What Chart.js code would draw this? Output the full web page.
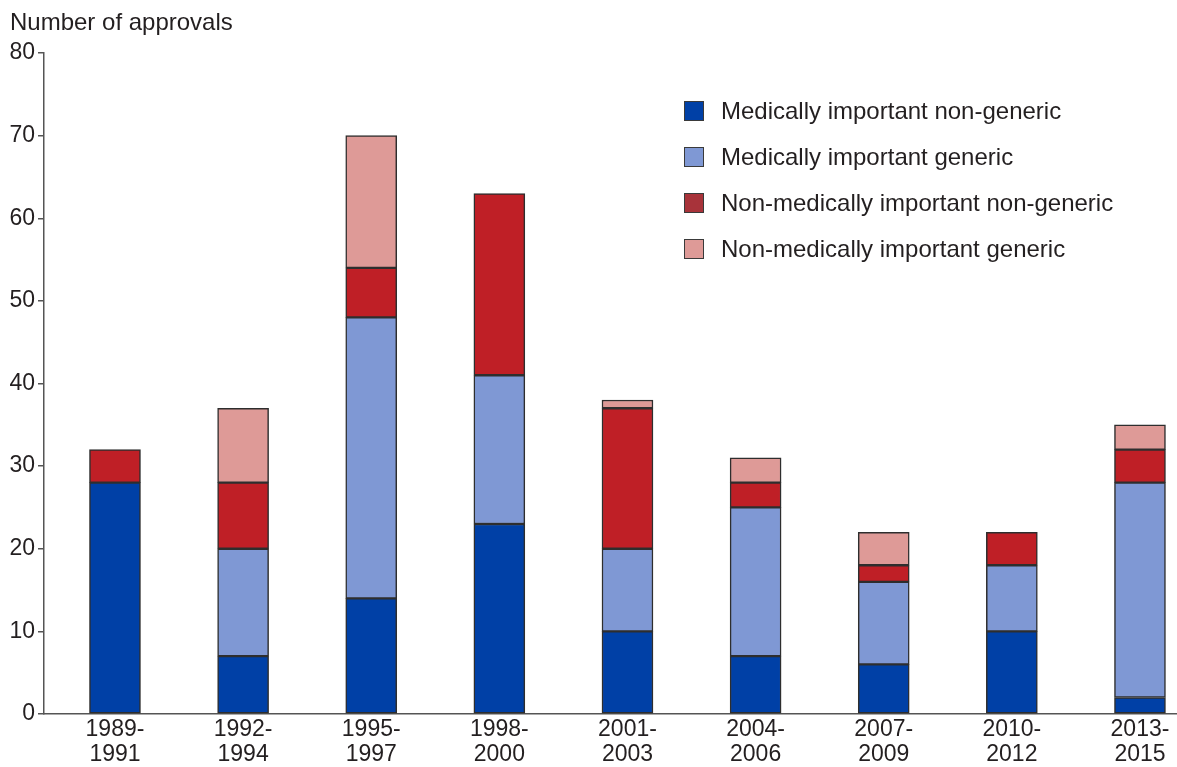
<!DOCTYPE html>
<html>
<head>
<meta charset="utf-8">
<script src="https://cdn.jsdelivr.net/npm/chart.js@4/dist/chart.umd.min.js"></script>
<style>
  body { margin: 0; background: #fff; font-family: "Liberation Sans", Arial, sans-serif; color: #231f20; }
  #wrap { position: relative; width: 1177px; height: 767px; }
  #title { position: absolute; left: 10px; top: 9px; font-size: 24px; line-height: 26px; }
  #legend { position: absolute; left: 684px; top: 88px; }
  .row { display: flex; align-items: center; height: 46px; font-size: 24px; line-height: 24px; }
  .sw { width: 18px; height: 18px; border: 1.5px solid #3a3a3a; margin-right: 17px; }
</style>
</head>
<body>
<div id="wrap">
  <canvas id="chart" width="1177" height="767"></canvas>
  <div id="title">Number of approvals</div>
  <div id="legend"></div>
</div>
<script>
// periods on the x axis
const periods = ["1989-1991", "1992-1994", "1995-1997", "1998-2000", "2001-2003",
                 "2004-2006", "2007-2009", "2010-2012", "2013-2015"];

// approvals per period, stacked bottom to top
const medNonGeneric    = [28, 7, 14, 23, 10, 7, 6, 10, 2];
const medGeneric       = [0, 13, 34, 18, 10, 18, 10, 8, 26];
const nonMedNonGeneric = [4, 8, 6, 22, 17, 3, 2, 4, 4];
const nonMedGeneric    = [0, 9, 16, 0, 1, 3, 4, 0, 3];

const yTicks = [0, 10, 20, 30, 40, 50, 60, 70, 80];

const series = [
  { label: "Medically important non-generic", data: medNonGeneric, color: "#0040a6", key: "#0040a6" },
  { label: "Medically important generic", data: medGeneric, color: "#7f98d4", key: "#7f98d4" },
  { label: "Non-medically important non-generic", data: nonMedNonGeneric, color: "#bf1f26", key: "#a8333a" },
  { label: "Non-medically important generic", data: nonMedGeneric, color: "#de9a97", key: "#de9a97" }
];

// html legend
const legend = document.getElementById("legend");
series.forEach(s => {
  const row = document.createElement("div");
  row.className = "row";
  row.innerHTML = '<div class="sw" style="background:' + s.key + '"></div><span>' + s.label + '</span>';
  legend.appendChild(row);
});

const font = { family: "'Liberation Sans', Arial, sans-serif", size: 23 };

new Chart(document.getElementById("chart"), {
  type: "bar",
  data: {
    datasets: series.map(s => ({
      label: s.label,
      data: s.data.map((v, i) => ({ x: i, y: v })),
      backgroundColor: s.color,
      borderColor: "#2e2e2e",
      borderWidth: 1.5,
      borderSkipped: false,
      barThickness: 51
    }))
  },
  options: {
    responsive: false,
    animation: false,
    layout: { padding: { top: 53, right: 0, left: 0, bottom: 0 } },
    plugins: { legend: { display: false }, tooltip: { enabled: false } },
    scales: {
      x: {
        type: "linear",
        stacked: true,
        offset: false,
        min: -0.554,
        max: 8.289,
        grid: { display: false, drawTicks: false },
        border: { color: "#555", width: 1.5 },
        afterBuildTicks: s => { s.ticks = periods.map((p, i) => ({ value: i })); },
        afterFit: s => { s.height = 53; },
        ticks: {
          padding: 3,
          color: "#231f20",
          font: { family: font.family, size: font.size, lineHeight: 1.1 },
          maxRotation: 0,
          autoSkip: false,
          callback: v => {
            const p = periods[v];
            if (!p) return "";
            const parts = p.split("-");
            return [parts[0] + "-", parts[1]];
          }
        }
      },
      y: {
        stacked: true,
        min: 0,
        max: 80,
        afterFit: s => { s.width = 44; },
        afterBuildTicks: s => { s.ticks = yTicks.map(v => ({ value: v })); },
        grid: { drawOnChartArea: false, drawTicks: true, tickLength: 6, color: "#555", lineWidth: 1.5 },
        border: { color: "#555", width: 1.5 },
        ticks: { padding: 3, color: "#231f20", font: font }
      }
    }
  }
});
</script>
</body>
</html>
